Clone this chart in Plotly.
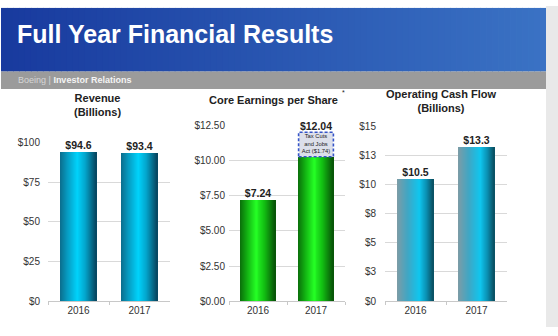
import plotly.graph_objects as go

# ---- data -------------------------------------------------------------
years = ["2016", "2017"]
revenue = [94.6, 93.4]                 # $ billions
core_eps_base = [7.24, 10.30]          # core EPS excluding tax reform benefit
tax_act_benefit = [0.0, 1.74]          # Tax Cuts and Jobs Act contribution
op_cash_flow = [10.5, 13.3]            # $ billions

rev_ticks = [0, 25, 50, 75, 100]
rev_ticktext = ["$0", "$25", "$50", "$75", "$100"]
eps_ticks = [0, 2.5, 5, 7.5, 10, 12.5]
eps_ticktext = ["$0.00", "$2.50", "$5.00", "$7.50", "$10.00", "$12.50"]
ocf_ticks = [0, 2.5, 5, 7.5, 10, 12.5, 15]
ocf_ticktext = ["$0", "$3", "$5", "$8", "$10", "$13", "$15"]

W, H = 558, 336
FONT = "Liberation Sans, Arial, sans-serif"


def px(x):
    return x / W


def py(y):
    return 1 - y / H


def hex2rgb(h):
    h = h.lstrip("#")
    return tuple(int(h[i:i + 2], 16) for i in (0, 2, 4))


def ramp(stops, t):
    for (p0, c0), (p1, c1) in zip(stops, stops[1:]):
        if p0 <= t <= p1:
            f = (t - p0) / (p1 - p0) if p1 > p0 else 0
            a, b = hex2rgb(c0), hex2rgb(c1)
            return "rgb(%d,%d,%d)" % tuple(round(a[k] + (b[k] - a[k]) * f) for k in range(3))
    return stops[-1][1]


# cylinder-style shading stops across the bar width
CYAN_REV = [(0, "#0b6d8c"), (0.2, "#079ac0"), (0.48, "#00d2fb"), (0.7, "#03a5cc"), (1, "#07455f")]
GREEN = [(0, "#0b6e0b"), (0.2, "#12b212"), (0.45, "#25ff25"), (0.7, "#12c012"), (1, "#075207")]
CYAN_OCF = [(0, "#7d9ba6"), (0.3, "#3fa6c4"), (0.62, "#0fc6ef"), (0.82, "#0a8eb0"), (1, "#0a4e60")]

BAR_W = 0.6
N_SLICES = 36

fig = go.Figure()


def shaded_bars(x, y, stops, xa, ya):
    w = BAR_W / N_SLICES
    for i in range(N_SLICES):
        t = (i + 0.5) / N_SLICES
        fig.add_trace(go.Bar(
            x=x, y=y,
            width=w * 1.25 if i < N_SLICES - 1 else w,
            offset=-BAR_W / 2 + i * w,
            marker=dict(color=ramp(stops, t), line=dict(width=0)),
            xaxis=xa, yaxis=ya, showlegend=False, hoverinfo="skip",
        ))


def value_labels(x, y, text, xa, ya):
    fig.add_trace(go.Scatter(
        x=x, y=y, text=text, mode="text", textposition="top center",
        textfont=dict(family=FONT, size=10.5, color="#222"), cliponaxis=False,
        xaxis=xa, yaxis=ya, showlegend=False, hoverinfo="skip",
    ))


shaded_bars(years, revenue, CYAN_REV, "x", "y")
shaded_bars(years, core_eps_base, GREEN, "x2", "y2")
shaded_bars(years, op_cash_flow, CYAN_OCF, "x3", "y3")

# Tax Cuts and Jobs Act portion stacked on top of 2017 core EPS
tax_idx = [i for i, v in enumerate(tax_act_benefit) if v > 0]
fig.add_trace(go.Bar(
    x=[years[i] for i in tax_idx],
    y=[tax_act_benefit[i] for i in tax_idx],
    base=[core_eps_base[i] for i in tax_idx],
    width=BAR_W, marker=dict(color="#dcdfea", line=dict(width=0)),
    xaxis="x2", yaxis="y2", showlegend=False, hoverinfo="skip",
))
fig.add_trace(go.Scatter(
    x=[years[i] for i in tax_idx],
    y=[core_eps_base[i] + tax_act_benefit[i] / 2 for i in tax_idx],
    text=["Tax Cuts<br>and Jobs<br>Act ($%.2f)" % tax_act_benefit[i] for i in tax_idx],
    mode="text", textposition="middle center",
    textfont=dict(family=FONT, size=5.8, color="#1a1a1a"),
    xaxis="x2", yaxis="y2", showlegend=False, hoverinfo="skip",
))

eps_total = [b + t for b, t in zip(core_eps_base, tax_act_benefit)]
value_labels(years, revenue, ["<b>$%.1f</b>" % v for v in revenue], "x", "y")
value_labels(years, eps_total, ["<b>$%.2f</b>" % v for v in eps_total], "x2", "y2")
value_labels(years, op_cash_flow, ["<b>$%.1f</b>" % v for v in op_cash_flow], "x3", "y3")

shapes = []
for i in tax_idx:
    shapes.append(dict(
        type="rect", xref="x2", yref="y2",
        x0=i - BAR_W / 2, x1=i + BAR_W / 2,
        y0=core_eps_base[i], y1=core_eps_base[i] + tax_act_benefit[i],
        line=dict(color="#3554c8", width=1.6, dash="3px,2px"), layer="above",
    ))

# ---- slide decoration ---------------------------------------------------
# header gradient built from thin vertical strips
left, right = (24, 58, 158), (58, 114, 196)
x0h, x1h, n_strips = 1, 546, 91
for k in range(n_strips):
    f = k / (n_strips - 1)
    col = "rgb(%d,%d,%d)" % tuple(round(left[c] + (right[c] - left[c]) * f) for c in range(3))
    xa0 = x0h + (x1h - x0h) * k / n_strips
    xa1 = x0h + (x1h - x0h) * (k + 1) / n_strips + 0.8
    shapes.append(dict(type="rect", xref="paper", yref="paper",
                       x0=px(xa0), x1=px(min(xa1, x1h)), y0=py(68), y1=py(2),
                       fillcolor=col, line=dict(width=0), layer="below"))
shapes.append(dict(type="rect", xref="paper", yref="paper",
                   x0=px(x0h), x1=px(x1h), y0=py(86), y1=py(68),
                   fillcolor="#9b9b9b", line=dict(width=0), layer="below"))
shapes.append(dict(type="rect", xref="paper", yref="paper",
                   x0=px(546), x1=1, y0=py(333), y1=1,
                   fillcolor="#e9e9e9", line=dict(width=0), layer="below"))

annotations = [
    dict(x=px(15), y=py(29), xref="paper", yref="paper", xanchor="left", yanchor="middle",
         text="<b>Full Year Financial Results</b>", showarrow=False,
         font=dict(family=FONT, size=25, color="white")),
    dict(x=px(16), y=py(77), xref="paper", yref="paper", xanchor="left", yanchor="middle",
         text="<span style='color:#d6d6d6'>Boeing | </span><b>Investor Relations</b>",
         showarrow=False, font=dict(family=FONT, size=9, color="#f4f4f4")),
    dict(x=px(97), y=py(103), xref="paper", yref="paper", xanchor="center", yanchor="middle",
         text="<b>Revenue<br>(Billions)</b>", showarrow=False,
         font=dict(family=FONT, size=11, color="#222")),
    dict(x=px(273), y=py(97), xref="paper", yref="paper", xanchor="center", yanchor="middle",
         text="<b>Core Earnings per Share</b>", showarrow=False,
         font=dict(family=FONT, size=11, color="#222")),
    dict(x=px(343), y=py(90), xref="paper", yref="paper", xanchor="center", yanchor="middle",
         text="*", showarrow=False, font=dict(family=FONT, size=7, color="#222")),
    dict(x=px(441), y=py(98), xref="paper", yref="paper", xanchor="center", yanchor="middle",
         text="<b>Operating Cash Flow<br>(Billions)</b>", showarrow=False,
         font=dict(family=FONT, size=11, color="#222")),
]

tickfont = dict(family=FONT, size=10, color="#333")


def xaxis(dom, anchor):
    return dict(domain=dom, anchor=anchor, type="category", categoryorder="array",
                categoryarray=years, range=[-0.5, 1.5], showline=True, linecolor="#c8c8c8",
                linewidth=1, ticks="outside", tickson="boundaries", ticklen=3,
                tickcolor="#c8c8c8", tickfont=tickfont, showgrid=False, fixedrange=True)


def yaxis(dom, anchor, rng, vals, text, standoff):
    return dict(domain=dom, anchor=anchor, range=rng, tickvals=vals, ticktext=text,
                showgrid=True, gridcolor="#d9d9d9", gridwidth=1, zeroline=False,
                showline=False, ticks="", tickfont=tickfont, ticklabelstandoff=standoff,
                fixedrange=True)


fig.update_layout(
    width=W, height=H, margin=dict(l=0, r=0, t=0, b=0, pad=0),
    paper_bgcolor="white", plot_bgcolor="rgba(0,0,0,0)",
    barmode="overlay", bargap=0,
    xaxis=xaxis([px(48), px(170)], "y"),
    yaxis=yaxis([py(306), py(141.7)], "x", [0, 100], rev_ticks, rev_ticktext, 7),
    xaxis2=xaxis([px(229), px(345)], "y2"),
    yaxis2=yaxis([py(306), py(124.3)], "x2", [0, 12.5], eps_ticks, eps_ticktext, 3),
    xaxis3=xaxis([px(385), px(507)], "y3"),
    yaxis3=yaxis([py(306), py(125)], "x3", [0, 15], ocf_ticks, ocf_ticktext, 8),
    shapes=shapes, annotations=annotations,
    font=dict(family=FONT),
)

fig.write_html("out.html")
